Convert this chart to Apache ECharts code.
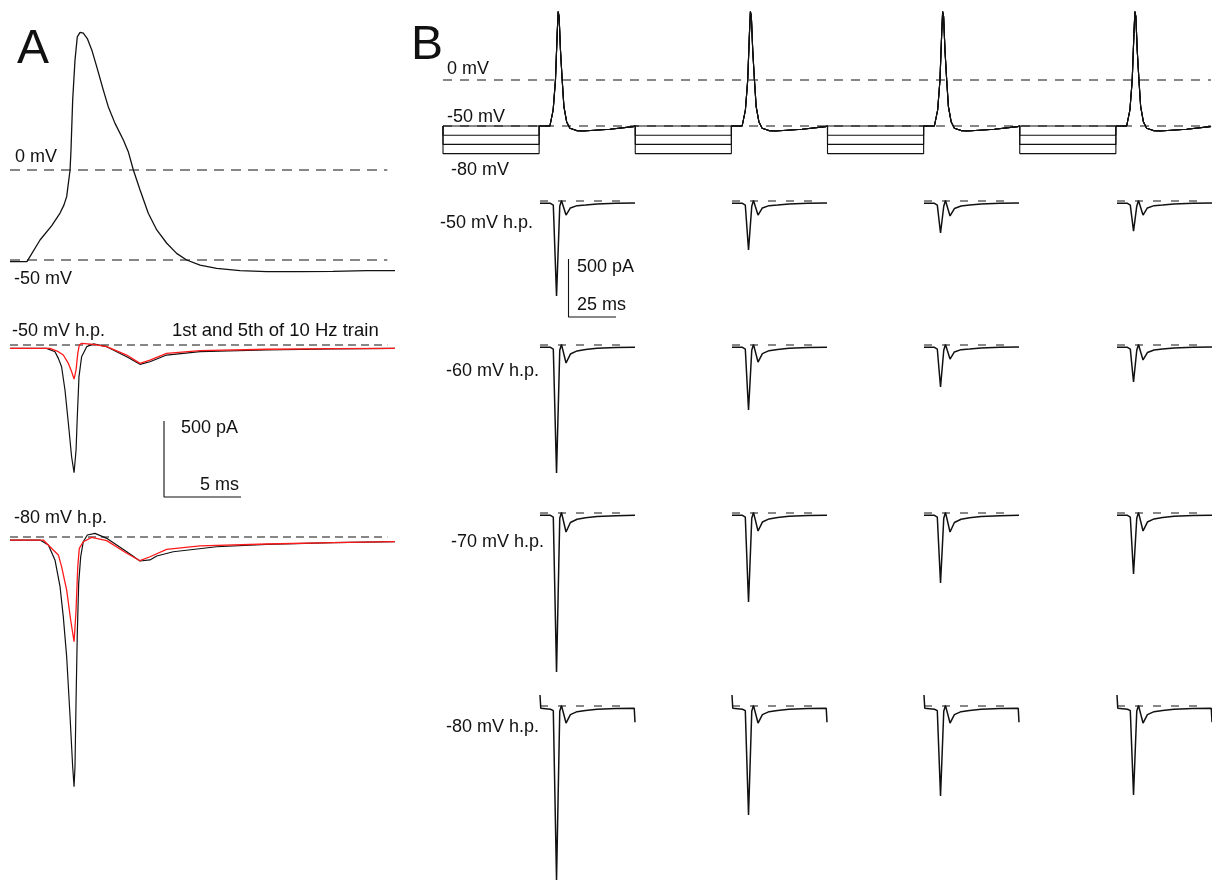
<!DOCTYPE html>
<html><head><meta charset="utf-8">
<script src="https://cdn.jsdelivr.net/npm/echarts@6/dist/echarts.min.js"></script>
<style>html,body{margin:0;padding:0;background:#fff}#c{width:1212px;height:892px}</style>
</head><body><div id="c"></div>
<script>
// ---------------- DATA ----------------
// Panel A: action potential (ms, mV)
const apATime = [0,1.1,1.95,2.7,3.25,3.5,3.68,3.9,3.96,4.07,4.22,4.37,4.55,4.76,5.02,5.31,5.63,6.06,6.38,6.82,7.36,7.68,8.01,8.44,8.98,9.53,10.18,10.82,11.47,12.34,13.42,14.94,16.67,18.83,20.97,23.16,25.0];
const apAVolt = [-50.9,-50.9,-38.9,-31,-23.9,-19.5,-14.8,0,11,38.9,61,74,76.5,76,73,66.7,57.4,44.4,35.2,25.9,16.7,10.2,0,-11,-24,-33.3,-40.7,-46.3,-50,-52.8,-54.6,-55.9,-56.5,-56.5,-56.3,-55.9,-55.9];
const apARefLevels = [0, -50];
const apARefEnd = 24.5;

// Panel A currents (ms, pA) — black: 1st, red: 5th of 10 Hz train
const iA50BlackTime = [0,2.38,2.92,3.14,3.35,3.57,3.79,4.0,4.16,4.29,4.37,4.48,4.65,4.98,5.41,6.28,7.58,8.44,9.09,10.17,12.34,16.67,21.0,25.0];
const iA50BlackVal  = [-22,-22,-44,-88,-143,-296,-515,-735,-840,-691,-472,-208,-77,-11,7,-11,-77,-127,-110,-66,-44,-33,-26,-22];
const iA50RedTime   = [0,2.6,3.14,3.46,3.79,4.0,4.16,4.29,4.4,4.5,4.65,5.41,6.28,7.58,8.44,9.09,10.17,12.34,16.67,21.0,25.0];
const iA50RedVal    = [-22,-22,-44,-66,-121,-175,-224,-164,-55,0,11,4,-11,-66,-121,-99,-55,-37,-28,-24,-22];
const iA80BlackTime = [0,1.95,2.49,2.92,3.25,3.46,3.68,3.9,4.07,4.16,4.22,4.29,4.37,4.46,4.59,4.76,5.02,5.52,6.28,7.58,8.44,9.09,9.53,10.6,13.42,16.67,21.0,25.0];
const iA80BlackVal  = [-20,-20,-53,-151,-327,-524,-788,-1182,-1511,-1643,-1511,-1072,-634,-305,-130,-31,13,24,-9,-97,-158,-151,-125,-97,-64,-48,-37,-31];
const iA80RedTime   = [0,2.16,2.81,3.14,3.35,3.68,3.94,4.16,4.29,4.4,4.5,4.76,5.3,6.28,7.58,8.44,9.09,10.17,12.34,16.67,21.0,25.0];
const iA80RedVal    = [-20,-20,-86,-118,-195,-349,-546,-689,-480,-195,-75,-31,-2,-24,-107,-156,-130,-81,-59,-46,-37,-31];
const iARefEnd = 24.5;
const scaleBarA = {t: 10, i: -500, pA: 500, ms: 5};

// Panel B: 10 Hz AP train with hyperpolarizing steps (ms, mV)
const trainStepLevels = [-50, -60, -70, -80];
const trainStepOnsets = [0, 100, 200, 300];
const trainStepDuration = 50;
const trainApTime = [
  [55.6,57.3,58.5,59.4,59.9,60.4,61.1,62.0,62.9,64.3,66.0,69.5,72.9,86.8,98.9,100],
  [155.6,157.3,158.5,159.4,159.9,160.4,161.1,162.0,162.9,164.3,166.0,169.5,172.9,186.8,198.9,200],
  [255.6,257.3,258.5,259.4,259.9,260.4,261.1,262.0,262.9,264.3,266.0,269.5,272.9,286.8,298.9,300],
  [355.6,357.3,358.5,359.4,359.9,360.4,361.1,362.0,362.9,364.3,366.0,369.5,372.9,386.8,398.9,399.5]
];
const trainApVolt = [
  [-50,-32.6,0,50.7,74.3,68.8,32.6,0,-29,-45.3,-52.5,-55,-55.4,-53.6,-50.7,-50],
  [-50,-32.6,0,50.7,74.3,68.8,32.6,0,-29,-45.3,-52.5,-55,-55.4,-53.6,-50.7,-50],
  [-50,-32.6,0,50.7,74.3,68.8,32.6,0,-29,-45.3,-52.5,-55,-55.4,-53.6,-50.7,-50],
  [-50,-32.6,0,50.7,74.3,68.8,32.6,0,-29,-45.3,-52.5,-55,-55.4,-53.6,-50.7,-50.5]
];
const trainRefLevels = [0, -50];
const trainEnd = 399.5;

// Panel B currents: rows = holding potentials, columns = 1st..4th AP of train (ms, pA)
const bRowLabels = ['-50 mV h.p.', '-60 mV h.p.', '-70 mV h.p.', '-80 mV h.p.'];
const bTraceTime = [0,5.5,7.0,8.7,10.4,11.3,13.7,16,19.5,24,30,40,50];
const bRow50 = [
  [-20,-20,-35,-819,-45,5,-121,-60,-40,-35,-25,-20,-18],
  [-20,-20,-35,-422,-45,5,-121,-60,-40,-35,-25,-20,-18],
  [-20,-20,-35,-276,-45,5,-129,-65,-43,-35,-25,-20,-18],
  [-20,-20,-35,-259,-45,5,-121,-60,-40,-35,-25,-20,-18]
];
const bRow60 = [
  [-20,-20,-35,-1103,-45,5,-155,-78,-51,-38,-28,-22,-20],
  [-20,-20,-35,-560,-45,5,-147,-74,-49,-38,-28,-22,-20],
  [-20,-20,-35,-362,-45,5,-121,-60,-40,-35,-25,-20,-18],
  [-20,-20,-35,-319,-45,5,-129,-65,-43,-35,-25,-20,-18]
];
const bRow70 = [
  [-20,-20,-35,-1371,-45,5,-164,-82,-54,-40,-30,-24,-20],
  [-20,-20,-35,-767,-45,5,-155,-78,-51,-38,-28,-22,-20],
  [-20,-20,-35,-603,-45,5,-164,-82,-54,-40,-30,-24,-20],
  [-20,-20,-35,-526,-45,5,-155,-78,-51,-38,-28,-22,-20]
];
const bRow80Time = [0,0.4,5.5,7.0,8.7,10.4,11.3,13.7,16,19.5,24,30,40,49.6,50];
const bRow80 = [
  [95,-20,-28,-40,-1500,-45,5,-147,-74,-49,-38,-28,-22,-20,-140],
  [95,-20,-28,-40,-940,-45,5,-147,-74,-49,-38,-28,-22,-20,-140],
  [95,-20,-28,-40,-776,-45,5,-147,-74,-49,-38,-28,-22,-20,-140],
  [95,-20,-28,-40,-767,-45,5,-147,-74,-49,-38,-28,-22,-20,-140]
];
const bRefEnd = 45;
const scaleBarB = {t: 15, i: -500, pA: 500, ms: 25};

// ---------------- LAYOUT ----------------
const FONT = '"Liberation Sans", Arial, sans-serif';
const grids = [], xAxis = [], yAxis = [], series = [];
function panel(left, top, width, height, xmin, xmax, ymin, ymax) {
  const i = grids.length;
  grids.push({left, top, width, height, containLabel: false, show: false});
  xAxis.push({type: 'value', gridIndex: i, min: xmin, max: xmax, show: false, splitLine: {show: false}});
  yAxis.push({type: 'value', gridIndex: i, min: ymin, max: ymax, show: false, splitLine: {show: false}});
  return i;
}
function trace(gi, data, color, width, dash, z) {
  series.push({
    type: 'line', xAxisIndex: gi, yAxisIndex: gi, data,
    showSymbol: false, symbol: 'none', silent: true, clip: false, smooth: false,
    lineStyle: {color, width, type: dash || 'solid'}, z: z || 2
  });
}
const zip = (t, v) => t.map((x, k) => [x, v[k]]);
function refLine(gi, level, t0, t1, dash) {
  trace(gi, [[t0, level], [t1, level]], '#111', 1.2, dash, 1);
}

// Panel A scales
const A_LEFT = 10, A_PX_MS = 15.4, A_XMAX = 25.1;
const A_PX_MV = 1.8, A_PX_PA = 0.152;
// AP
const gAP = panel(A_LEFT, 170 - 80 * A_PX_MV, A_XMAX * A_PX_MS, 140 * A_PX_MV, 0, A_XMAX, -60, 80);
apARefLevels.forEach(l => refLine(gAP, l, 0, apARefEnd, [10, 7]));
trace(gAP, zip(apATime, apAVolt), '#111', 1.3);
// -50 h.p. currents
const gA50 = panel(A_LEFT, 345 - 100 * A_PX_PA, A_XMAX * A_PX_MS, 1150 * A_PX_PA, 0, A_XMAX, -1050, 100);
refLine(gA50, 0, 0, iARefEnd, [8, 5]);
trace(gA50, zip(iA50BlackTime, iA50BlackVal), '#111', 1.2, null, 3);
trace(gA50, zip(iA50RedTime, iA50RedVal), '#ff1a1a', 1.3, null, 4);
trace(gA50, [[scaleBarA.t, scaleBarA.i], [scaleBarA.t, scaleBarA.i - scaleBarA.pA], [scaleBarA.t + scaleBarA.ms, scaleBarA.i - scaleBarA.pA]], '#111', 1.1);
// -80 h.p. currents
const gA80 = panel(A_LEFT, 537 - 100 * A_PX_PA, A_XMAX * A_PX_MS, 1850 * A_PX_PA, 0, A_XMAX, -1750, 100);
refLine(gA80, 0, 0, iARefEnd, [8, 5]);
trace(gA80, zip(iA80BlackTime, iA80BlackVal), '#111', 1.2, null, 3);
trace(gA80, zip(iA80RedTime, iA80RedVal), '#ff1a1a', 1.3, null, 4);

// Panel B train
const B_PX_MS = 1.925, B_PX_MV = 0.92;
const gTrain = panel(443, 80 - 80 * B_PX_MV, 400 * B_PX_MS, 165 * B_PX_MV, 0, 400, -85, 80);
trainRefLevels.forEach(l => refLine(gTrain, l, 0, trainEnd, [9, 8]));
trainStepLevels.forEach(level => {
  const pts = [];
  trainStepOnsets.forEach((on, k) => {
    if (k === 0) pts.push([on, -50]);
    pts.push([on, level], [on + trainStepDuration, level], [on + trainStepDuration, -50]);
    trainApTime[k].forEach((t, j) => pts.push([t, trainApVolt[k][j]]));
  });
  trace(gTrain, pts, '#111', 1.1);
});

// Panel B current grid
const C_PX_MS = 1.9, C_PX_PA = 0.116;
const colLeft = [540, 732, 924, 1117];
const rowZero = [201, 345, 513, 706];
const bRows = [bRow50, bRow60, bRow70, bRow80];
bRows.forEach((row, r) => {
  row.forEach((vals, c) => {
    const g = panel(colLeft[c], rowZero[r] - 150 * C_PX_PA, 50 * C_PX_MS, 1700 * C_PX_PA, 0, 50, -1550, 150);
    refLine(g, 0, 0, bRefEnd, [8, 10]);
    trace(g, zip(r === 3 ? bRow80Time : bTraceTime, vals), '#111', 1.5, null, 3);
    if (r === 0 && c === 0) {
      trace(g, [[scaleBarB.t, scaleBarB.i], [scaleBarB.t, scaleBarB.i - scaleBarB.pA], [scaleBarB.t + scaleBarB.ms, scaleBarB.i - scaleBarB.pA]], '#111', 1.1);
    }
  });
});

// Text labels
const texts = [
  ['A', 17, 50, 48], ['0 mV', 15, 157, 18], ['-50 mV', 14, 279, 18],
  ['-50 mV h.p.', 12, 331, 18], ['1st and 5th of 10 Hz train', 172, 331, 18.5],
  ['500 pA', 181, 428, 18], ['5 ms', 200, 485, 18], ['-80 mV h.p.', 14, 518, 18],
  ['B', 411, 46, 48], ['0 mV', 447, 69, 18], ['-50 mV', 447, 117, 18], ['-80 mV', 451, 170, 18],
  [bRowLabels[0], 440, 223, 18], ['500 pA', 577, 267, 18], ['25 ms', 577, 305, 18],
  [bRowLabels[1], 446, 371, 18], [bRowLabels[2], 451, 542, 18], [bRowLabels[3], 446, 727, 18]
];
const graphic = texts.map(([text, x, y, size]) => ({
  type: 'text', x, y, silent: true,
  style: {text, font: size + 'px ' + FONT, fill: '#111', verticalAlign: 'middle', align: 'left'}
}));

const chart = echarts.init(document.getElementById('c'), null, {renderer: 'canvas'});
chart.setOption({
  animation: false, backgroundColor: '#fff',
  grid: grids, xAxis, yAxis, series, graphic
});
</script></body></html>
